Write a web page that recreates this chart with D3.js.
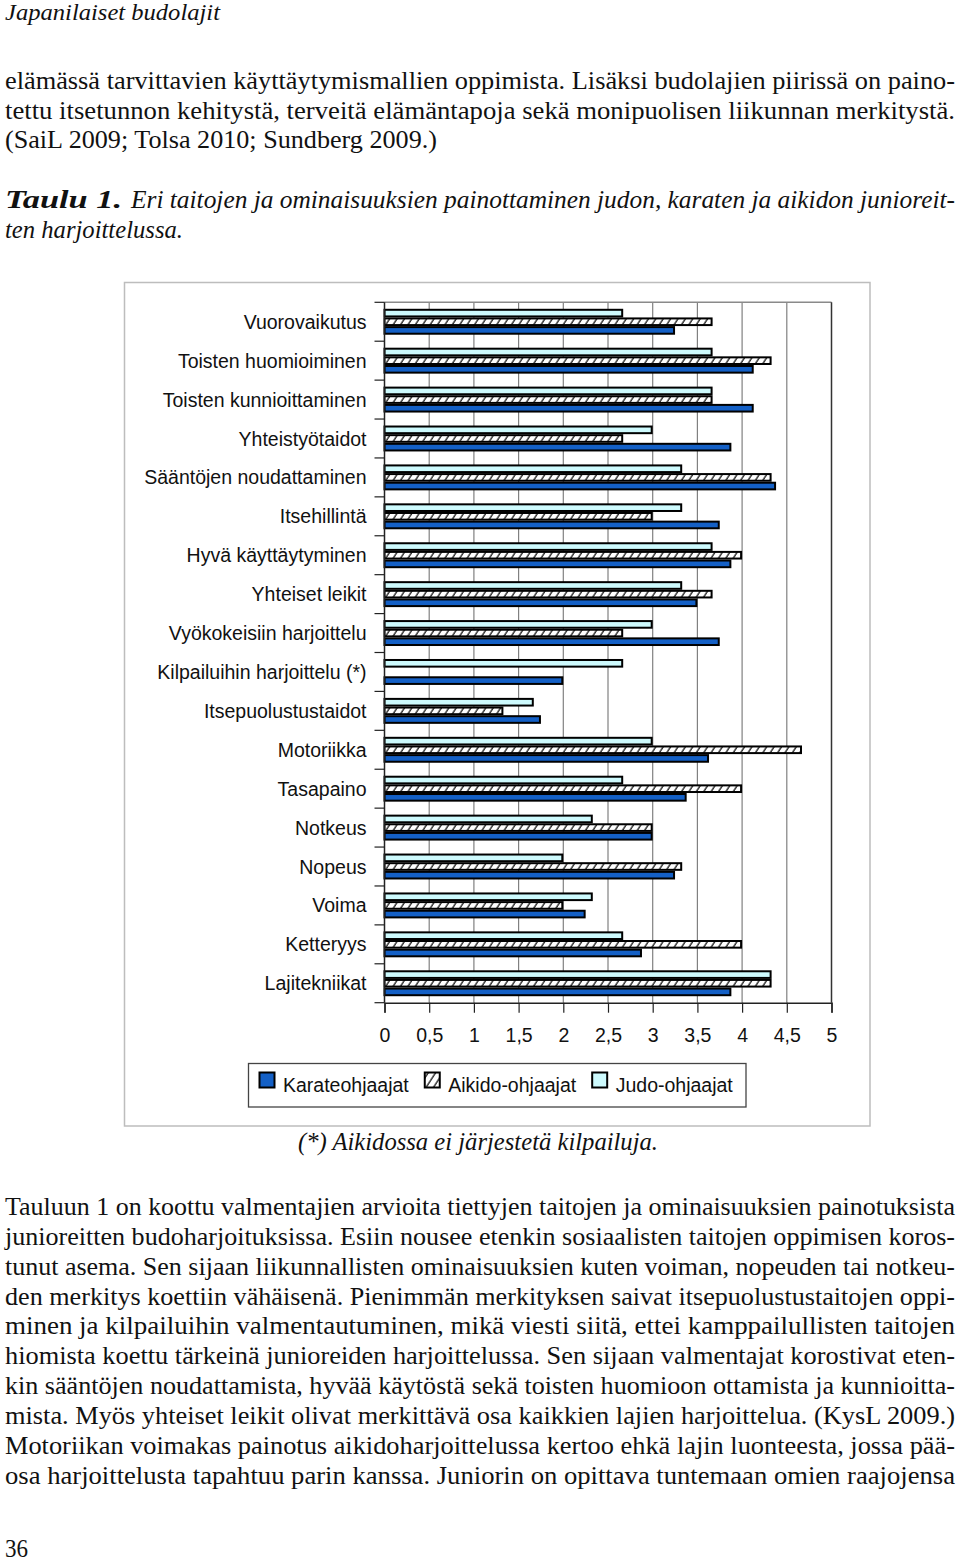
<!DOCTYPE html>
<html><head><meta charset="utf-8">
<script src="https://cdn.jsdelivr.net/npm/d3@7"></script>
<style>html,body{margin:0;padding:0;background:#fff;} svg{display:block}</style>
</head><body>
<script>
// ---------- data ----------
const categories = ["Vuorovaikutus","Toisten huomioiminen","Toisten kunnioittaminen","Yhteistyötaidot",
  "Sääntöjen noudattaminen","Itsehillintä","Hyvä käyttäytyminen","Yhteiset leikit",
  "Vyökokeisiin harjoittelu","Kilpailuihin harjoittelu (*)","Itsepuolustustaidot","Motoriikka",
  "Tasapaino","Notkeus","Nopeus","Voima","Ketteryys","Lajitekniikat"];
const karate = [3.25,4.13,4.13,3.88,4.38,3.75,3.88,3.5,3.75,2.0,1.75,3.63,3.38,3.0,3.25,2.25,2.88,3.88];
const aikido = [3.67,4.33,3.67,2.67,4.33,3.0,4.0,3.67,2.67,null,1.33,4.67,4.0,3.0,3.33,2.0,4.0,4.33];
const judo   = [2.67,3.67,3.67,3.0,3.33,3.33,3.67,3.33,3.0,2.67,1.67,3.0,2.67,2.33,2.0,2.33,2.67,4.33];
const seriesNames = ["Karateohjaajat","Aikido-ohjaajat","Judo-ohjaajat"];
const xTicks = [0,0.5,1,1.5,2,2.5,3,3.5,4,4.5,5];

const headerText = "Japanilaiset budolajit";
const introLines = [
  "elämässä tarvittavien käyttäytymismallien oppimista. Lisäksi budolajien piirissä on paino-",
  "tettu itsetunnon kehitystä, terveitä elämäntapoja sekä monipuolisen liikunnan merkitystä.",
  "(SaiL 2009; Tolsa 2010; Sundberg 2009.)"
];
const captionBold = "Taulu 1.";
const captionLines = [
  "Eri taitojen ja ominaisuuksien painottaminen judon, karaten ja aikidon junioreit-",
  "ten harjoittelussa."
];
const footnote = "(*) Aikidossa ei järjestetä kilpailuja.";
const bodyLines = [
  "Tauluun 1 on koottu valmentajien arvioita tiettyjen taitojen ja ominaisuuksien painotuksista",
  "junioreitten budoharjoituksissa. Esiin nousee etenkin sosiaalisten taitojen oppimisen koros-",
  "tunut asema. Sen sijaan liikunnallisten ominaisuuksien kuten voiman, nopeuden tai notkeu-",
  "den merkitys koettiin vähäisenä. Pienimmän merkityksen saivat itsepuolustustaitojen oppi-",
  "minen ja kilpailuihin valmentautuminen, mikä viesti siitä, ettei kamppailullisten taitojen",
  "hiomista koettu tärkeinä junioreiden harjoittelussa. Sen sijaan valmentajat korostivat eten-",
  "kin sääntöjen noudattamista, hyvää käytöstä sekä toisten huomioon ottamista ja kunnioitta-",
  "mista. Myös yhteiset leikit olivat merkittävä osa kaikkien lajien harjoittelua. (KysL 2009.)",
  "Motoriikan voimakas painotus aikidoharjoittelussa kertoo ehkä lajin luonteesta, jossa pää-",
  "osa harjoittelusta tapahtuu parin kanssa. Juniorin on opittava tuntemaan omien raajojensa"
];
const pageNumber = "36";

// ---------- font detection ----------
function hasFont(f) {
  const c = document.createElement("canvas").getContext("2d");
  const s = "mmmmmmmmmmlliiWWQgy0123";
  for (const base of ["monospace", "sans-serif"]) {
    c.font = `40px ${base}`; const w0 = c.measureText(s).width;
    c.font = `40px "${f}", ${base}`; const w1 = c.measureText(s).width;
    if (Math.abs(w0 - w1) > 0.5) return true;
  }
  return false;
}
const serifCands = ["Liberation Serif","Tinos","Times New Roman","Nimbus Roman","Nimbus Roman No9 L","FreeSerif","DejaVu Serif Condensed","DejaVu Serif"];
const serifFound = serifCands.find(hasFont) || "serif";
const serif = `"${serifFound}", serif`;
const sans = "'Liberation Sans',Arial,sans-serif";

// ---------- setup ----------
const W = 960, H = 1564;
const svg = d3.select("body").append("svg").attr("width", W).attr("height", H);
svg.append("rect").attr("width", W).attr("height", H).attr("fill", "#fff");

function line(str, x, y, width, opts = {}) {
  const t = svg.append("text").attr("x", x).attr("y", y)
    .style("font-family", opts.family || serif)
    .style("font-size", (opts.size || 25) + "px")
    .style("font-style", opts.italic ? "italic" : "normal")
    .style("font-weight", opts.bold ? "bold" : "normal")
    .attr("fill", "#111")
    .text(str);
  if (width) t.attr("textLength", width).attr("lengthAdjust", "spacingAndGlyphs");
  return t;
}

// ---------- page text ----------
line(headerText, 5, 20, 215, {italic: true, size: 24});
const introW = [950, 950, 432];
introLines.forEach((s, i) => line(s, 5, 89 + i * 29.7, introW[i]));
line(captionBold, 5, 208, 117, {italic: true, bold: true});
line(captionLines[0], 131, 208, 824, {italic: true});
line(captionLines[1], 5, 238, 178, {italic: true});
line(footnote, 298, 1150, 360, {italic: true});
bodyLines.forEach((s, i) => line(s, 5, 1215 + i * 29.85, 950));
line(pageNumber, 5, 1557, 23);

// ---------- chart frame ----------
svg.append("rect").attr("x", 124.5).attr("y", 282.5).attr("width", 745.5).attr("height", 843.5)
  .attr("fill", "none").attr("stroke", "#bdbdbd").attr("stroke-width", 1.5);

const x = d3.scaleLinear().domain([0, 5]).range([384.5, 831.5]);
const y = d3.scaleBand().domain(categories).range([302.3, 1002.7]).padding(0);
const bw = y.bandwidth();
const ySub = d3.scaleBand().domain(["Judo-ohjaajat","Aikido-ohjaajat","Karateohjaajat"])
  .range([bw / 6, bw * 5 / 6]).padding(0);

// hatch pattern
const defs = svg.append("defs");
const pat = defs.append("pattern").attr("id", "hatch").attr("patternUnits", "userSpaceOnUse")
  .attr("width", 6.2).attr("height", 10).attr("patternTransform", "rotate(33)");
pat.append("rect").attr("width", 6.2).attr("height", 10).attr("fill", "#fff");
pat.append("line").attr("x1", 1).attr("y1", 0).attr("x2", 1).attr("y2", 10)
  .attr("stroke", "#000").attr("stroke-width", 1.2);

const fills = {"Karateohjaajat": "#1460c6", "Aikido-ohjaajat": "url(#hatch)", "Judo-ohjaajat": "#cdfafd"};

// gridlines
const g = svg.append("g");
g.selectAll("line.grid").data(xTicks.filter(d => d > 0 && d < 5)).join("line")
  .attr("x1", d => x(d)).attr("x2", d => x(d))
  .attr("y1", y.range()[0]).attr("y2", y.range()[1])
  .attr("stroke", "#808080").attr("stroke-width", 1.2);
g.append("line").attr("x1", x(0)).attr("x2", x(5)).attr("y1", 302.3).attr("y2", 302.3)
  .attr("stroke", "#8a8a8a").attr("stroke-width", 1.5);
g.append("line").attr("x1", x(5)).attr("x2", x(5)).attr("y1", 302.3).attr("y2", 1002.7)
  .attr("stroke", "#333").attr("stroke-width", 1.5);

// bars
const rows = categories.map((c, i) => ({c, vals: [
  {s: "Judo-ohjaajat", v: judo[i]},
  {s: "Aikido-ohjaajat", v: aikido[i]},
  {s: "Karateohjaajat", v: karate[i]}]}));
const grp = svg.append("g").selectAll("g").data(rows).join("g")
  .attr("transform", d => `translate(0,${y(d.c)})`);
grp.selectAll("rect").data(d => d.vals.filter(v => v.v != null && v.v > 0)).join("rect")
  .attr("x", x(0)).attr("y", d => ySub(d.s) + 1)
  .attr("width", d => x(d.v) - x(0) - 1).attr("height", ySub.bandwidth() - 2)
  .attr("fill", d => fills[d.s]).attr("stroke", "#000").attr("stroke-width", 2);

// x axis
const xAxis = svg.append("g").attr("transform", "translate(0,1002.7)")
  .call(d3.axisBottom(x).tickValues(xTicks).tickSize(10).tickPadding(15)
    .tickFormat(d => String(d).replace(".", ",")));
xAxis.select(".domain").attr("stroke", "#222").attr("stroke-width", 1.5);
xAxis.selectAll(".tick line").attr("stroke", "#222").attr("stroke-width", 1.2);
xAxis.selectAll("text").style("font-family", sans).style("font-size", "19.5px").attr("fill", "#111");

// y axis: labels at band centres, ticks at band boundaries
const yAxis = svg.append("g").attr("transform", `translate(${x(0)},0)`)
  .call(d3.axisLeft(y).tickSize(0).tickPadding(18));
yAxis.select(".domain").remove();
yAxis.selectAll("text").style("font-family", sans).style("font-size", "19.5px")
  .attr("fill", "#111").attr("dy", "0.36em");
const bounds = categories.map(c => y(c)).concat([y.range()[1]]);
svg.append("g").selectAll("line").data(bounds).join("line")
  .attr("x1", x(0) - 10).attr("x2", x(0)).attr("y1", d => d).attr("y2", d => d)
  .attr("stroke", "#222").attr("stroke-width", 1.2);
svg.append("line").attr("x1", x(0)).attr("x2", x(0)).attr("y1", 302.3).attr("y2", 1002.7)
  .attr("stroke", "#222").attr("stroke-width", 1.5);

// legend
svg.append("rect").attr("x", 248.5).attr("y", 1063.5).attr("width", 497.5).attr("height", 43.5)
  .attr("fill", "#fff").attr("stroke", "#444").attr("stroke-width", 1.3);
const legOrder = ["Karateohjaajat", "Aikido-ohjaajat", "Judo-ohjaajat"];
let lx = 259.5;
legOrder.forEach(s => {
  svg.append("rect").attr("x", lx).attr("y", 1072.5).attr("width", 15).attr("height", 15)
    .attr("fill", fills[s]).attr("stroke", "#000").attr("stroke-width", 2);
  const t = svg.append("text").attr("x", lx + 23.5).attr("y", 1091.5)
    .style("font-family", sans).style("font-size", "19.5px").attr("fill", "#111").text(s);
  lx = lx + 23.5 + t.node().getComputedTextLength() + 16;
});
</script>
</body></html>
